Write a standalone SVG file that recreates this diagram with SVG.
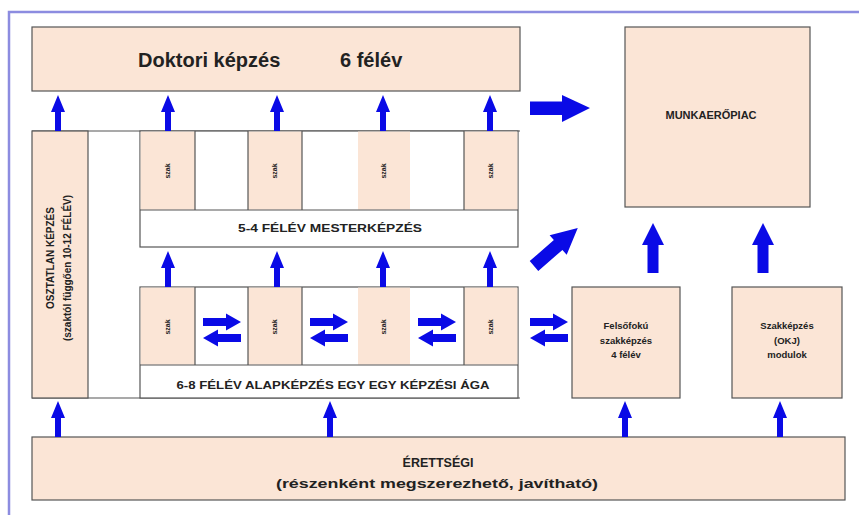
<svg xmlns="http://www.w3.org/2000/svg" width="859" height="515" viewBox="0 0 859 515">
<style>
.box{fill:#fbe5d6;stroke:#555;stroke-width:1.2}
.wbox{fill:#ffffff;stroke:#555;stroke-width:1.2}
.ln{stroke:#555;stroke-width:1.2;fill:none}
.pc{fill:#fbe5d6}
.arr{fill:#0a0ae6}
.t{font-family:"Liberation Sans",Arial,sans-serif;font-weight:bold;fill:#222;text-anchor:middle}
.sz{font-size:7px}
</style>
<defs>
<path id="ua" d="M0,0 L7,17 L3,17 L3,36 L-3,36 L-3,17 L-7,17 Z"/>
<path id="bua" d="M0,0 L11,22 L5.5,22 L5.5,50 L-5.5,50 L-5.5,22 L-11,22 Z"/>
<path id="ra" d="M0,-4 L23,-4 L23,-8.5 L38,0 L23,8.5 L23,4 L0,4 Z"/>
</defs>
<rect x="0" y="0" width="859" height="515" fill="#ffffff"/>
<path d="M9,515 L9,12 L859,12" fill="none" stroke="#8c8ce0" stroke-width="2.5"/>

<g id="doktori">
<rect class="box" x="32" y="27" width="488" height="64"/>
<text class="t" x="138" y="67" font-size="20" style="text-anchor:start">Doktori képzés</text>
<text class="t" x="340" y="67" font-size="20" style="text-anchor:start">6 félév</text>
</g>

<g id="munkaeropiac">
<rect class="box" x="625" y="27" width="185" height="180"/>
<text class="t" x="711" y="119" font-size="11">MUNKAERŐPIAC</text>
</g>

<g id="container">
<line class="ln" x1="32" y1="131" x2="520" y2="131"/>
<line class="ln" x1="32" y1="398" x2="520" y2="398"/>
</g>

<g id="osztatlan">
<rect class="box" x="32" y="131" width="56" height="267"/>
<text class="t" transform="translate(54,258) rotate(-90)" font-size="10">OSZTATLAN KÉPZÉS</text>
<text class="t" transform="translate(71,268) rotate(-90)" font-size="10">(szaktól függően 10-12 FÉLÉV)</text>
</g>

<g id="mesterkepzes">
<rect class="wbox" x="140" y="131" width="378" height="116"/>
<rect class="pc" x="140.6" y="131.6" width="54.4" height="78"/>
<rect class="pc" x="248" y="131.6" width="54" height="78"/>
<rect class="pc" x="358" y="131.6" width="52" height="78"/>
<rect class="pc" x="464" y="131.6" width="53.4" height="78"/>
<line class="ln" x1="140" y1="210" x2="518" y2="210"/>
<line class="ln" x1="195" y1="131" x2="195" y2="210"/>
<line class="ln" x1="248" y1="131" x2="248" y2="210"/>
<line class="ln" x1="302" y1="131" x2="302" y2="210"/>
<line class="ln" x1="464" y1="131" x2="464" y2="210"/>
<text class="t sz" transform="translate(170,171) rotate(-90)">szak</text>
<text class="t sz" transform="translate(277,171) rotate(-90)">szak</text>
<text class="t sz" transform="translate(386,171) rotate(-90)">szak</text>
<text class="t sz" transform="translate(493,171) rotate(-90)">szak</text>
<text class="t" x="330" y="232" font-size="10" textLength="184" lengthAdjust="spacingAndGlyphs">5-4 FÉLÉV MESTERKÉPZÉS</text>
</g>

<g id="alapkepzes">
<rect class="wbox" x="140" y="287" width="378" height="111"/>
<rect class="pc" x="140.6" y="287.6" width="54.4" height="77"/>
<rect class="pc" x="248" y="287.6" width="54" height="77"/>
<rect class="pc" x="358" y="287.6" width="52" height="77"/>
<rect class="pc" x="464" y="287.6" width="53.4" height="77"/>
<line class="ln" x1="140" y1="365" x2="518" y2="365"/>
<line class="ln" x1="195" y1="287" x2="195" y2="365"/>
<line class="ln" x1="248" y1="287" x2="248" y2="365"/>
<line class="ln" x1="302" y1="287" x2="302" y2="365"/>
<line class="ln" x1="464" y1="287" x2="464" y2="365"/>
<text class="t sz" transform="translate(170,327) rotate(-90)">szak</text>
<text class="t sz" transform="translate(277,327) rotate(-90)">szak</text>
<text class="t sz" transform="translate(386,327) rotate(-90)">szak</text>
<text class="t sz" transform="translate(493,327) rotate(-90)">szak</text>
<text class="t" x="333" y="389" font-size="10" textLength="313" lengthAdjust="spacingAndGlyphs">6-8 FÉLÉV ALAPKÉPZÉS  EGY EGY KÉPZÉSI ÁGA</text>
</g>

<g id="felsofoku">
<rect class="box" x="572" y="287" width="108" height="111"/>
<text class="t" x="626" y="329" font-size="9.5">Felsőfokú</text>
<text class="t" x="626" y="344" font-size="9.5">szakképzés</text>
<text class="t" x="626" y="358" font-size="9.5">4 félév</text>
</g>

<g id="szakkepzes">
<rect class="box" x="732" y="287" width="110" height="111"/>
<text class="t" x="787" y="329" font-size="9.5">Szakképzés</text>
<text class="t" x="787" y="344" font-size="9.5">(OKJ)</text>
<text class="t" x="787" y="358" font-size="9.5">modulok</text>
</g>

<g id="erettsegi">
<rect class="box" x="32" y="437" width="813" height="63"/>
<text class="t" x="438" y="467" font-size="12.5">ÉRETTSÉGI</text>
<text class="t" x="437" y="488" font-size="12.5" textLength="322" lengthAdjust="spacingAndGlyphs">(részenként megszerezhető, javítható)</text>
</g>

<g id="connectors" class="arr">
<use href="#ua" x="58" y="95"/>
<use href="#ua" x="168" y="95"/>
<use href="#ua" x="277" y="95"/>
<use href="#ua" x="383" y="95"/>
<use href="#ua" x="490" y="95"/>
<use href="#ua" x="168" y="251"/>
<use href="#ua" x="277" y="251"/>
<use href="#ua" x="383" y="251"/>
<use href="#ua" x="490" y="251"/>
<use href="#ua" x="58" y="401"/>
<use href="#ua" x="330" y="401"/>
<use href="#ua" x="625" y="401"/>
<use href="#ua" x="780" y="401"/>
<use href="#bua" x="653" y="223"/>
<use href="#bua" x="763" y="223"/>
<path d="M530,101.5 L562,101.5 L562,95 L590,108 L562,122 L562,115 L530,115 Z"/>
<path d="M0,-6.5 L32,-6.5 L32,-13 L58,0 L32,13 L32,6.5 L0,6.5 Z" transform="translate(534,266) rotate(-41)"/>
<use href="#ra" x="203" y="322"/>
<use href="#ra" transform="translate(241,338) scale(-1,1)"/>
<use href="#ra" x="310" y="322"/>
<use href="#ra" transform="translate(348,338) scale(-1,1)"/>
<use href="#ra" x="418" y="322"/>
<use href="#ra" transform="translate(456,338) scale(-1,1)"/>
<use href="#ra" x="530" y="322"/>
<use href="#ra" transform="translate(568,338) scale(-1,1)"/>
</g>
</svg>
